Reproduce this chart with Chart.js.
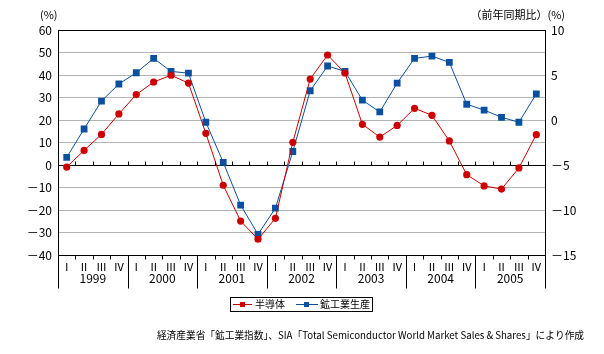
<!DOCTYPE html>
<html>
<head>
<meta charset="utf-8">
<script src="https://cdn.jsdelivr.net/npm/chart.js@4/dist/chart.umd.min.js"></script>
<style>
  html, body { margin: 0; padding: 0; background: #fff; }
  #wrap { position: relative; width: 604px; height: 354px; }
</style>
</head>
<body>
<div id="wrap"><canvas id="chart" width="604" height="354"></canvas></div>
<script>
const FONT = '"Noto Sans CJK JP", "Noto Sans", sans-serif';

// 1999 I ～ 2005 IV
const years = ['1999', '2000', '2001', '2002', '2003', '2004', '2005'];
const quarters = ['Ⅰ', 'Ⅱ', 'Ⅲ', 'Ⅳ'];
const categories = years.flatMap((y) => quarters.map((q) => y + q));

// 半導体 (left axis, %)
const semiconductor = [
    -0.9, 6.5, 13.6, 22.7, 31.3, 36.9, 39.9, 36.4,
    14.1, -9.0, -24.9, -33.0, -23.7, 10.1, 38.2, 48.9,
    40.9, 18.1, 12.4, 17.6, 25.2, 22.1, 10.7, -4.3,
    -9.3, -10.7, -1.3, 13.5
];

// 鉱工業生産 (right axis, 前年同期比 %)
const industrial = [
    -4.15, -1.0, 2.1, 4.0, 5.25, 6.85, 5.4, 5.2,
    -0.25, -4.7, -9.45, -12.7, -9.8, -3.5, 3.25, 6.0,
    5.4, 2.2, 0.9, 4.1, 6.85, 7.1, 6.4, 1.75,
    1.1, 0.3, -0.25, 2.9
];

const leftTicks = [60, 50, 40, 30, 20, 10, 0, -10, -20, -30, -40];
const rightTicks = [10, 5, 0, -5, -10, -15];

const RED = '#cc0000';
const BLUE = '#0a50a0';

function fmt(v) {
    return v < 0 ? '－' + Math.abs(v) : String(v);
}

// quarter ticks, year separators, year labels, legend, titles
const decorPlugin = {
    id: 'decor',
    afterDraw(chart) {
        const { ctx, chartArea } = chart;
        const x = chart.scales.x;
        const y = chart.scales.y;
        const zeroY = Math.round(y.getPixelForValue(0)) + 0.5;
        const bottom = Math.round(chartArea.bottom) + 0.5;
        const n = categories.length;
        const step = x.getPixelForValue(1) - x.getPixelForValue(0);

        ctx.save();
        ctx.strokeStyle = '#000';
        ctx.lineWidth = 1;
        ctx.beginPath();
        for (let i = 0; i <= n; i++) {
            const bx = Math.round(x.getPixelForValue(i) - step / 2) + 0.5;
            if (i > 0 && i < n) {
                ctx.moveTo(bx, zeroY - 4);
                ctx.lineTo(bx, zeroY);
            }
            if (i % 4 === 0) {
                ctx.moveTo(bx, bottom);
                ctx.lineTo(bx, bottom + 33);
            } else {
                ctx.moveTo(bx, bottom);
                ctx.lineTo(bx, bottom + 4);
            }
        }
        ctx.stroke();

        ctx.fillStyle = '#000';
        ctx.font = '12px ' + FONT;
        ctx.textAlign = 'center';
        ctx.textBaseline = 'middle';
        years.forEach((yr, k) => {
            const cx = (x.getPixelForValue(k * 4) + x.getPixelForValue(k * 4 + 3)) / 2;
            ctx.fillText(yr, cx, 278);
        });

        // axis titles
        ctx.font = '11px ' + FONT;
        ctx.textAlign = 'left';
        ctx.fillText('(%)', 40, 15);
        ctx.textAlign = 'right';
        ctx.fillText('（前年同期比）(%)', 565, 15);

        // legend
        ctx.strokeRect(230.5, 297.5, 142, 14);
        const ly = 304.5;
        ctx.strokeStyle = RED;
        ctx.beginPath();
        ctx.moveTo(233, ly);
        ctx.lineTo(252, ly);
        ctx.stroke();
        ctx.fillStyle = RED;
        ctx.fillRect(240, ly - 2.5, 5, 5);
        ctx.strokeStyle = BLUE;
        ctx.beginPath();
        ctx.moveTo(296, ly);
        ctx.lineTo(318, ly);
        ctx.stroke();
        ctx.fillStyle = BLUE;
        ctx.fillRect(304, ly - 2.5, 5, 5);
        ctx.fillStyle = '#000';
        ctx.textAlign = 'left';
        ctx.font = '10px ' + FONT;
        ctx.fillText('半導体', 255, ly);
        ctx.fillText('鉱工業生産', 320, ly);

        // source
        ctx.font = '9.7px ' + FONT;
        ctx.textAlign = 'right';
        ctx.fillText('経済産業省「鉱工業指数」、SIA「Total Semiconductor World Market Sales & Shares」により作成', 584, 335);
        ctx.restore();
    },
};

new Chart(document.getElementById('chart'), {
    type: 'line',
    data: {
        labels: categories,
        datasets: [
            {
                label: '半導体',
                data: semiconductor,
                yAxisID: 'y',
                borderColor: RED,
                backgroundColor: RED,
                borderWidth: 1,
                pointStyle: 'circle',
                pointRadius: 3.6,
                pointBorderWidth: 0,
                tension: 0,
            },
            {
                label: '鉱工業生産',
                data: industrial,
                yAxisID: 'y2',
                borderColor: BLUE,
                backgroundColor: BLUE,
                borderWidth: 1,
                pointStyle: 'rect',
                pointRadius: 4.8,
                pointBorderWidth: 0,
                tension: 0,
            },
        ],
    },
    options: {
        responsive: false,
        animation: false,
        devicePixelRatio: 1,
        layout: { padding: { top: 30, left: 0, right: 0, bottom: 0 } },
        plugins: {
            legend: { display: false },
            tooltip: { enabled: false },
        },
        scales: {
            x: {
                type: 'category',
                offset: true,
                grid: { display: false, drawTicks: false },
                border: { display: true, color: '#000', width: 1 },
                ticks: {
                    autoSkip: false,
                    maxRotation: 0,
                    padding: 5,
                    color: '#000',
                    font: { size: 11, family: FONT },
                    callback: (v, i) => quarters[i % 4],
                },
                afterFit: (s) => { s.height = 99; },
            },
            y: {
                position: 'left',
                min: -40,
                max: 60,
                afterBuildTicks: (s) => { s.ticks = leftTicks.map((v) => ({ value: v })); },
                grid: {
                    drawTicks: false,
                    color: (c) => (c.tick && (c.tick.value === 0 || c.tick.value === 60) ? '#000' : '#b4b4b4'),
                    lineWidth: 1,
                },
                border: { display: true, color: '#000', width: 1 },
                ticks: {
                    padding: 6,
                    color: '#000',
                    font: { size: 12, family: FONT },
                    callback: (v) => fmt(v),
                },
                afterFit: (s) => { s.width = 58; },
            },
            y2: {
                position: 'right',
                min: -15,
                max: 10,
                afterBuildTicks: (s) => { s.ticks = rightTicks.map((v) => ({ value: v })); },
                grid: { display: false, drawTicks: false },
                border: { display: true, color: '#000', width: 1 },
                ticks: {
                    padding: 6,
                    color: '#000',
                    font: { size: 12, family: FONT },
                    callback: (v) => fmt(v),
                },
                afterFit: (s) => { s.width = 59; },
            },
        },
    },
    plugins: [decorPlugin],
});
</script>
</body>
</html>
